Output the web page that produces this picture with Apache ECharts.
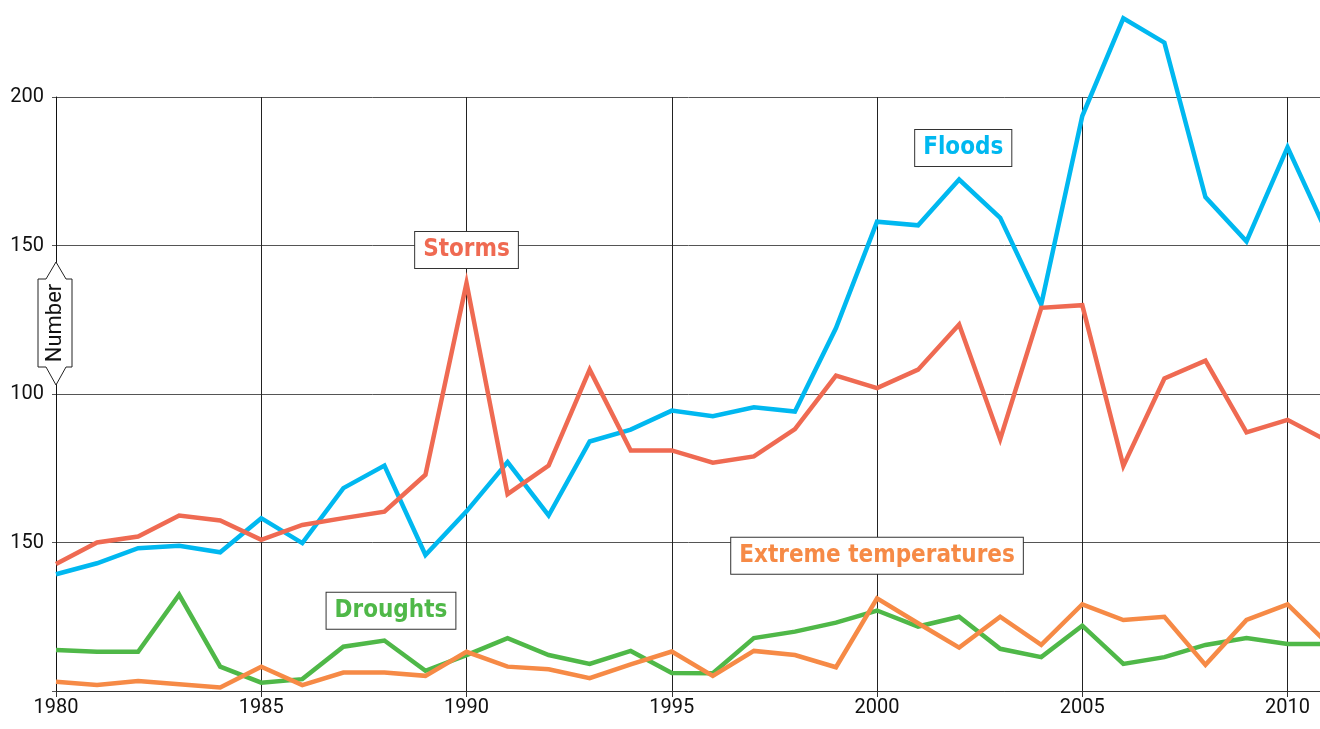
<!DOCTYPE html>
<html>
<head>
<meta charset="utf-8">
<script src="https://cdn.jsdelivr.net/npm/echarts@6/dist/echarts.min.js"></script>
<style>
html,body{margin:0;padding:0;background:#fff;}
#chart{width:1320px;height:729px;}
</style>
</head>
<body>
<div id="chart"></div>
<script>
const years = [1980,1981,1982,1983,1984,1985,1986,1987,1988,1989,1990,1991,1992,1993,1994,1995,1996,1997,1998,1999,2000,2001,2002,2003,2004,2005,2006,2007,2008,2009,2010,2011];
const floods = [39.3,43,48.1,48.9,46.7,58.2,49.8,68.3,75.9,45.8,60.5,77.1,59.1,84,88,94.4,92.5,95.5,94.1,122.2,158,156.8,172.2,159.3,130.1,193.6,226.5,218.3,166.3,151.4,183.1,153];
const storms = [42.8,50,52,59.1,57.4,50.9,55.9,58.2,60.4,72.8,137.4,66.3,75.9,108.2,81,81,76.9,79,88.2,106.2,102,108.2,123.4,84.8,129,129.9,75.8,105.2,111.2,87.1,91.3,84];
const droughts = [13.8,13.2,13.2,32.4,8.2,2.8,4,14.9,17,6.8,12.1,17.8,12.1,9.1,13.5,6.1,6,17.8,20,23,27.1,21.7,25,14.2,11.4,22,9.1,11.4,15.5,17.8,15.8,15.8];
const extremeTemps = [3.1,2,3.4,2.3,1.2,8.2,2,6.2,6.2,5.1,13.2,8.2,7.3,4.3,9,13.3,5.1,13.5,12.1,8,31.2,22.8,14.6,25,15.5,29.2,23.9,25,8.8,23.9,29.2,15.6];
const yTickLabels = {0:'', 50:'150', 100:'100', 150:'150', 200:'200'};
const seriesNames = ['Floods','Storms','Droughts','Extreme temperatures'];
const labelAnchors = [[2002.1,182.8],[1990.0,148.5],[1988.16,27],[2000.0,45.5]];

const colors = ['#00b8f0','#ef6a52','#4fb848','#f68a46'];
const values = [floods, storms, droughts, extremeTemps];
const labelFont = "'Liberation Sans Narrow','DejaVu Sans Condensed','Roboto',sans-serif";
const tickFont = "Roboto, 'Noto Sans', sans-serif";

const chart = echarts.init(document.getElementById('chart'), null, {renderer:'canvas'});
const series = values.map((vals, i) => ({
  name: seriesNames[i],
  type: 'line',
  data: years.map((y, j) => [y, vals[j]]),
  showSymbol: false,
  symbol: 'none',
  clip: false,
  animation: false,
  lineStyle: {color: colors[i], width: 4.5, join: 'miter'},
  itemStyle: {color: colors[i]},
  z: 3 + i,
  markPoint: {
    silent: true,
    animation: false,
    symbol: 'rect',
    symbolSize: 0,
    data: [{
      coord: labelAnchors[i],
      label: {
        show: true,
        position: 'inside',
        formatter: seriesNames[i],
        color: colors[i],
        fontFamily: labelFont,
        fontWeight: 'bold',
        fontSize: 24,
        lineHeight: 27,
        backgroundColor: '#ffffff',
        borderColor: '#333333',
        borderWidth: 1,
        padding: [5, 8, 4, 8]
      }
    }]
  }
}));

chart.setOption({
  animation: false,
  backgroundColor: '#ffffff',
  grid: {left: 56, width: 1272.6, top: 97, height: 594, containLabel: false, outerBoundsMode: 'none'},
  xAxis: {
    type: 'value', min: 1980, max: 2011, interval: 5,
    axisLine: {show: true, onZero: false, lineStyle: {color: '#333', width: 1}},
    axisTick: {show: true, length: 6, lineStyle: {color: '#333'}},
    axisLabel: {fontFamily: tickFont, fontSize: 20, color: '#111', margin: 7, formatter: v => String(v),
      showMaxLabel: false},
    splitLine: {show: true, lineStyle: {color: '#222', width: 1}}
  },
  yAxis: {
    type: 'value', min: 0, max: 200, interval: 50,
    axisLine: {show: true, lineStyle: {color: '#111', width: 1}},
    axisTick: {show: true, length: 4, lineStyle: {color: '#555'}},
    axisLabel: {fontFamily: tickFont, fontSize: 20, color: '#111', margin: 12, formatter: v => yTickLabels[v] || ''},
    splitLine: {show: true, lineStyle: {color: '#555', width: 1}}
  },
  graphic: [
    {type: 'polygon', z: 100,
     shape: {points: [[56,262],[46,279],[38,279],[38,367],[46,367],[56,385],[66,367],[72,367],[72,279],[66,279]]},
     style: {fill: '#fff', stroke: '#222', lineWidth: 1}},
    {type: 'text', z: 101, x: 55, y: 323, rotation: Math.PI/2,
     style: {text: 'Number', fill: '#111', font: "22px Roboto, 'Noto Sans', sans-serif", align: 'center', verticalAlign: 'middle'}}
  ],
  series: series
});
</script>
</body>
</html>
